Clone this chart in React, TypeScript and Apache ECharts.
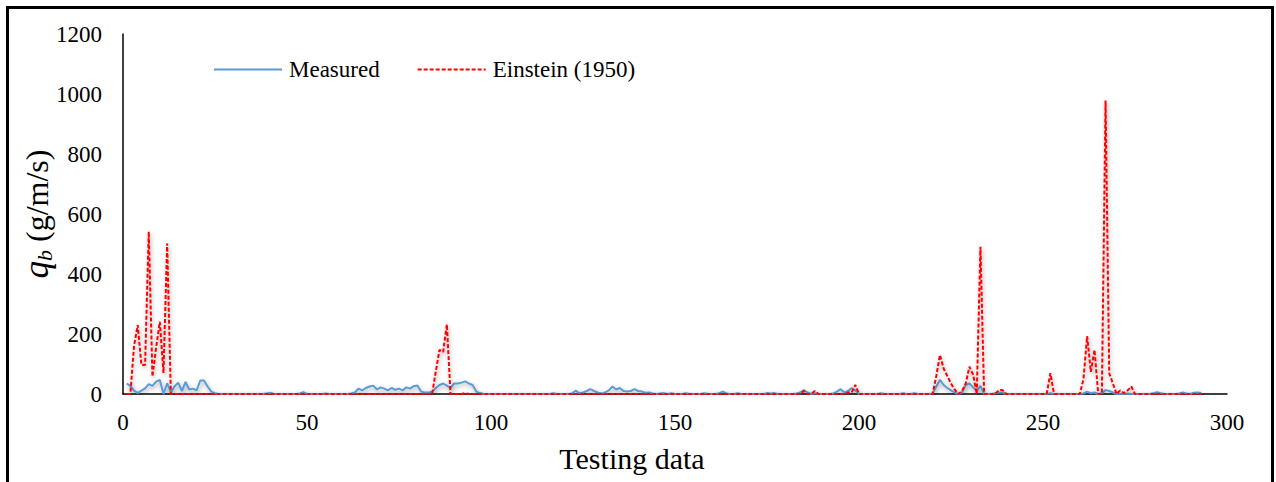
import React, { useEffect, useRef } from "react";
import * as echarts from "echarts";

const seriesNames = ["Measured", "Einstein (1950)"];
const xName = "Testing data";

// Measured values, testing data 1..293
const measured = [
  35, 27, 11, 4, 11, 19, 33, 27, 41, 47,
  0, 36, 5, 25, 38, 10, 40, 15, 18, 12,
  45, 45, 25, 8, 3, 0, 0, 0, 0, 0,
  0, 0, 0, 0, 0, 0, 0, 0, 2, 4,
  0, 0, 0, 0, 0, 0, 0, 2, 6, 0,
  0, 0, 0, 0, 2, 0, 0, 0, 0, 0,
  0, 2, 5, 18, 12, 20, 25, 28, 15, 22,
  18, 12, 20, 14, 18, 12, 22, 18, 26, 28,
  8, 5, 5, 8, 20, 30, 35, 28, 20, 35,
  35, 38, 42, 35, 30, 8, 3, 1, 0, 0,
  0, 0, 0, 0, 0, 0, 0, 0, 0, 0,
  0, 0, 0, 0, 0, 0, 3, 0, 0, 0,
  0, 2, 11, 3, 5, 10, 16, 10, 5, 2,
  5, 12, 25, 15, 20, 10, 8, 10, 16, 10,
  8, 4, 5, 2, 0, 2, 3, 0, 3, 0,
  0, 0, 3, 0, 0, 0, 0, 3, 0, 0,
  0, 3, 8, 2, 0, 0, 3, 0, 0, 0,
  0, 0, 0, 0, 3, 2, 3, 0, 0, 0,
  0, 0, 2, 5, 13, 5, 0, 3, 0, 0,
  0, 0, 2, 8, 16, 5, 10, 20, 12, 0,
  0, 0, 0, 0, 0, 3, 0, 0, 0, 0,
  0, 3, 0, 0, 3, 0, 0, 0, 0, 2,
  25, 47, 30, 20, 12, 5, 0, 5, 30, 35,
  22, 10, 27, 0, 0, 0, 3, 5, 5, 0,
  0, 0, 0, 0, 0, 0, 0, 0, 0, 0,
  0, 3, 0, 0, 0, 0, 0, 0, 0, 0,
  2, 8, 3, 5, 0, 3, 13, 10, 5, 0,
  0, 0, 2, 0, 0, 0, 0, 0, 0, 3,
  6, 3, 0, 0, 0, 0, 2, 5, 2, 0,
  4, 5, 3,
];

// Einstein (1950) values, testing data 1..293
const einstein = [
  0, 0, 160, 230, 97, 97, 541, 58, 155, 241,
  70, 502, 0, 0, 0, 0, 0, 0, 0, 0,
  0, 0, 0, 0, 0, 0, 0, 0, 0, 0,
  0, 0, 0, 0, 0, 0, 0, 0, 0, 0,
  0, 0, 0, 0, 0, 0, 0, 0, 0, 0,
  0, 0, 0, 0, 0, 0, 0, 0, 0, 0,
  0, 0, 0, 0, 0, 0, 0, 0, 0, 0,
  0, 0, 0, 0, 0, 0, 0, 0, 0, 0,
  0, 0, 0, 0, 75, 147, 140, 232, 0, 0,
  0, 0, 3, 0, 0, 0, 0, 0, 0, 0,
  0, 0, 0, 0, 0, 0, 0, 0, 0, 0,
  0, 0, 0, 0, 0, 0, 0, 0, 0, 0,
  0, 0, 0, 0, 0, 0, 0, 0, 0, 0,
  0, 0, 0, 0, 0, 0, 0, 0, 0, 0,
  0, 0, 0, 0, 0, 0, 0, 0, 0, 0,
  0, 0, 0, 0, 0, 0, 0, 0, 0, 0,
  0, 0, 0, 0, 0, 0, 0, 0, 0, 0,
  0, 0, 0, 0, 0, 0, 0, 0, 0, 0,
  0, 0, 0, 0, 10, 0, 0, 10, 0, 0,
  0, 0, 0, 0, 0, 0, 5, 5, 30, 0,
  0, 0, 0, 0, 0, 0, 0, 0, 0, 0,
  0, 0, 0, 0, 0, 0, 0, 0, 0, 0,
  60, 130, 85, 60, 35, 15, 0, 10, 35, 91,
  65, 0, 491, 0, 0, 0, 0, 13, 13, 0,
  0, 0, 0, 0, 0, 0, 0, 0, 0, 0,
  0, 69, 0, 0, 0, 0, 0, 0, 0, 0,
  50, 193, 74, 147, 0, 0, 978, 69, 35, 0,
  12, 3, 12, 25, 0, 0, 0, 0, 0, 0,
  0, 0, 0, 0, 0, 0, 0, 0, 0, 0,
  0, 0, 0,
];

const FONT = "Liberation Serif";

export default function App() {
  const ref = useRef<HTMLDivElement>(null);
  useEffect(() => {
    const chart = echarts.init(ref.current!, null, { renderer: "svg" });
    const toPairs = (arr: number[]) => arr.map((v, i) => [i + 1, v]);
    const shadow = {
      shadowColor: "rgba(0,0,0,0.35)",
      shadowBlur: 4,
      shadowOffsetX: 1,
      shadowOffsetY: 2,
    };
    const tickRich = {
      n: { fontFamily: FONT, fontSize: 23, fontStyle: "normal", fontWeight: "normal", color: "#000" },
    };
    chart.setOption({
      animation: false,
      backgroundColor: "#ffffff",
      textStyle: { fontFamily: FONT, color: "#000" },
      grid: { left: 123, right: 49, top: 34, bottom: 88, containLabel: false },
      legend: {
        left: 208,
        top: 53,
        itemWidth: 68,
        itemHeight: 14,
        itemGap: 37,
        data: seriesNames,
        itemStyle: { opacity: 0 },
        textStyle: { fontFamily: FONT, fontSize: 23, color: "#000", padding: [0, 0, 0, 2] },
      },
      xAxis: {
        type: "value",
        min: 0,
        max: 300,
        interval: 50,
        name: xName,
        nameLocation: "middle",
        nameGap: 49,
        nameMoveOverlap: false,
        nameTextStyle: { fontFamily: FONT, fontSize: 30, color: "#000", padding: [0, 86, 0, 0] },
        axisLine: { show: true, lineStyle: { color: "#000", width: 1.5 } },
        axisTick: { show: false },
        splitLine: { show: false },
        axisLabel: {
          fontFamily: FONT,
          fontSize: 23,
          fontStyle: "normal",
          color: "#000",
          margin: 17,
          formatter: (v: number) => `{n|${v}}`,
          rich: tickRich,
        },
      },
      yAxis: {
        type: "value",
        min: 0,
        max: 1200,
        interval: 200,
        name: "{q|q}{b|b}{t| (g/m/s)}",
        nameLocation: "middle",
        nameGap: 68,
        nameMoveOverlap: false,
        nameTextStyle: {
          fontFamily: FONT,
          fontSize: 32,
          fontStyle: "normal",
          color: "#000",
          rich: {
            q: { fontFamily: FONT, fontSize: 35, fontStyle: "italic", color: "#000" },
            b: { fontFamily: FONT, fontSize: 22, fontStyle: "italic", color: "#000", padding: [15, 0, 0, 0] },
            t: { fontFamily: FONT, fontSize: 32, fontStyle: "normal", fontWeight: "normal", color: "#000" },
          },
        },
        axisLine: { show: true, lineStyle: { color: "#000", width: 1.5 } },
        axisTick: { show: false },
        splitLine: { show: false },
        axisLabel: {
          fontFamily: FONT,
          fontSize: 23,
          fontStyle: "normal",
          color: "#000",
          margin: 21,
          formatter: (v: number) => `{n|${v}}`,
          rich: tickRich,
        },
      },
      series: [
        {
          name: seriesNames[0],
          type: "line",
          data: toPairs(measured),
          symbol: "none",
          showSymbol: false,
          lineStyle: { color: "#5B9BD5", width: 2, ...shadow },
          itemStyle: { color: "#5B9BD5" },
        },
        {
          name: seriesNames[1],
          type: "line",
          data: toPairs(einstein),
          symbol: "none",
          showSymbol: false,
          lineStyle: { color: "#FF0000", width: 2, type: [4, 2], ...shadow },
          itemStyle: { color: "#FF0000" },
        },
      ],
      graphic: [
        {
          type: "rect",
          silent: true,
          z: 100,
          shape: { x: 7.5, y: 7.5, width: 1265, height: 520 },
          style: { fill: "none", stroke: "#000", lineWidth: 3 },
        },
      ],
    });
    return () => chart.dispose();
  }, []);
  return (
    <div
      ref={ref}
      style={{ position: "fixed", left: 0, top: 0, width: 1276, height: 482 }}
    />
  );
}
